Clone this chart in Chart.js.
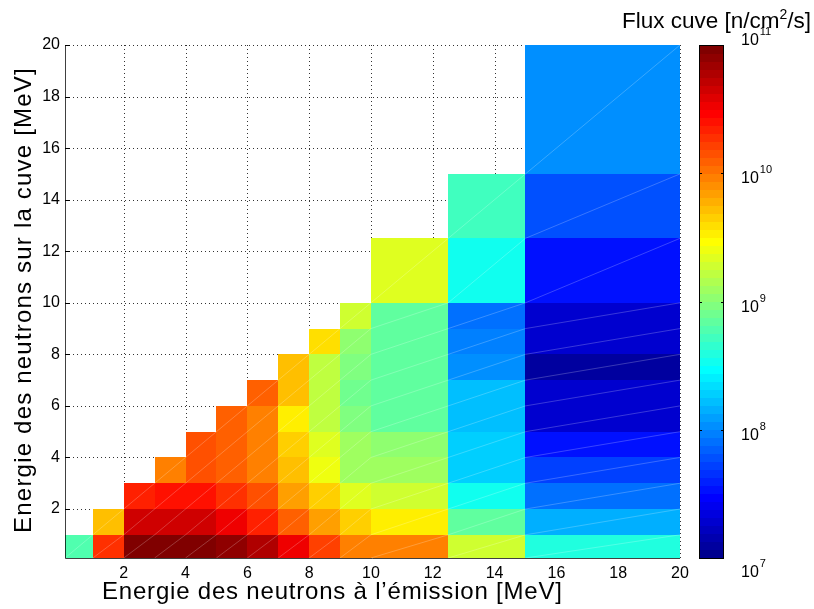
<!DOCTYPE html>
<html><head><meta charset="utf-8">
<script src="https://cdn.jsdelivr.net/npm/chart.js@4/dist/chart.umd.min.js"></script>
<style>html,body{margin:0;padding:0;background:#fff}#wrap{width:814px;height:609px}</style>
</head><body><div id="wrap"><canvas id="c" width="814" height="609"></canvas></div>
<script>
// ---- data ----
const xEdges = [0.1, 1, 2, 3, 4, 5, 6, 7, 8, 9, 10, 12.5, 15, 20];   // Energie à l'émission [MeV]
const yEdges = [0.1, 1, 2, 3, 4, 5, 6, 7, 8, 9, 10, 12.5, 15, 20];   // Energie sur la cuve [MeV]
const xTicks = [2, 4, 6, 8, 10, 12, 14, 16, 18, 20];
const yTicks = [2, 4, 6, 8, 10, 12, 14, 16, 18, 20];
const cbTicks = [1e7, 1e8, 1e9, 1e10, 1e11];
// flux [n/cm2/s], one array per "cuve" energy bin, one value per emission energy bin (null = empty)
const flux0  = [5.8e8, 2.0e10, 1.0e11, 1.0e11, 1.0e11, 8.3e10, 6.3e10, 3.2e10, 1.7e10, 9.1e9, 9.1e9, 1.8e9, 4.2e8];
const flux1  = [null, 5.6e9, 4.3e10, 4.3e10, 4.3e10, 3.6e10, 2.3e10, 1.26e10, 6.9e9, 4.4e9, 3.2e9, 6.9e8, 1.4e8];
const flux2  = [null, null, 2.3e10, 2.6e10, 2.6e10, 2.0e10, 1.45e10, 6.9e9, 4.4e9, 2.3e9, 2.0e9, 3.6e8, 7.9e7];
const flux3  = [null, null, null, 9.1e9, 1.45e10, 1.26e10, 9.1e9, 5.0e9, 2.5e9, 1.26e9, 1.2e9, 2.0e8, 5.0e7];
const flux4  = [null, null, null, null, 1.45e10, 1.26e10, 9.1e9, 4.4e9, 2.3e9, 1.26e9, 1.1e9, 2.0e8, 3.2e7];
const flux5  = [null, null, null, null, null, 1.26e10, 9.1e9, 3.6e9, 1.74e9, 9.1e8, 7.2e8, 1.6e8, 2.0e7];
const flux6  = [null, null, null, null, null, null, 1.26e10, 5.0e9, 1.74e9, 8.3e8, 6.9e8, 1.74e8, 2.0e7];
const flux7  = [null, null, null, null, null, null, null, 5.6e9, 1.74e9, 9.1e8, 6.9e8, 1.0e8, 1.26e7];
const flux8  = [null, null, null, null, null, null, null, null, 4.0e9, 1.0e9, 6.9e8, 9.1e7, 2.0e7];
const flux9  = [null, null, null, null, null, null, null, null, null, 2.0e9, 6.9e8, 7.9e7, 1.8e7];
const flux10 = [null, null, null, null, null, null, null, null, null, null, 2.1e9, 3.2e8, 3.6e7];
const flux11 = [null, null, null, null, null, null, null, null, null, null, null, 5.0e8, 5.8e7];
const flux12 = [null, null, null, null, null, null, null, null, null, null, null, null, 1.1e8];
const fluxRows = [flux0, flux1, flux2, flux3, flux4, flux5, flux6, flux7, flux8, flux9, flux10, flux11, flux12];

// ---- jet(64) colormap ----
function jet64() {
  const n = 64, m = 16, u = [];
  for (let j = 1; j <= m; j++) u.push(j / m);
  for (let j = 0; j < m - 1; j++) u.push(1);
  for (let j = m; j >= 1; j--) u.push(j / m);
  const cm = Array.from({length: n}, () => [0, 0, 0]);
  for (let k = 0; k < u.length; k++) {
    const g = 8 + k + 1, r = g + m, b = g - m;
    if (g <= n) cm[g - 1][1] = u[k];
    if (r <= n) cm[r - 1][0] = u[k];
    if (b >= 1) cm[b - 1][2] = u[k];
  }
  return cm.map(c => `rgb(${Math.round(c[0]*255)},${Math.round(c[1]*255)},${Math.round(c[2]*255)})`);
}
const JET = jet64();
const LMIN = 7, LMAX = 11;
function colorFor(v) {
  let i = Math.floor((Math.log10(v) - LMIN) / (LMAX - LMIN) * 64);
  return JET[Math.max(0, Math.min(63, i))];
}

const cells = [];
fluxRows.forEach((row, r) => row.forEach((v, c) => {
  if (v == null) return;
  cells.push({x: (xEdges[c] + xEdges[c+1]) / 2, y: (yEdges[r] + yEdges[r+1]) / 2,
              x0: xEdges[c], x1: xEdges[c+1], y0: yEdges[r], y1: yEdges[r+1], v});
}));

const FONT = 'Liberation Sans, Arial, Helvetica, sans-serif';

const heatPlugin = {
  id: 'heat',
  beforeDatasetsDraw(chart) {
    const {ctx, chartArea: a, scales: {x, y}} = chart;
    // dotted grid
    ctx.save();
    ctx.strokeStyle = 'rgba(0,0,0,0.8)'; ctx.lineWidth = 1; ctx.setLineDash([1, 3]);
    xTicks.forEach(t => { const px = Math.round(x.getPixelForValue(t)) + 0.5;
      ctx.beginPath(); ctx.moveTo(px, a.bottom); ctx.lineTo(px, a.top); ctx.stroke(); });
    yTicks.forEach(t => { const py = Math.round(y.getPixelForValue(t)) + 0.5;
      ctx.beginPath(); ctx.moveTo(a.left, py); ctx.lineTo(a.right, py); ctx.stroke(); });
    ctx.setLineDash([]);
    // inward ticks on left axis
    ctx.strokeStyle = '#000';
    yTicks.forEach(t => { const py = Math.round(y.getPixelForValue(t)) + 0.5;
      ctx.beginPath(); ctx.moveTo(a.left, py); ctx.lineTo(a.left + 5, py); ctx.stroke(); });
    ctx.restore();
    const data = chart.data.datasets[0].data;
    ctx.save();
    data.forEach(d => {
      const px0 = Math.round(x.getPixelForValue(d.x0)), px1 = Math.round(x.getPixelForValue(d.x1));
      const py0 = Math.round(y.getPixelForValue(d.y0)), py1 = Math.round(y.getPixelForValue(d.y1));
      ctx.fillStyle = colorFor(d.v);
      ctx.fillRect(px0, py1, px1 - px0, py0 - py1);
    });
    ctx.strokeStyle = 'rgba(255,255,255,0.28)'; ctx.lineWidth = 0.8;
    data.forEach(d => {
      ctx.beginPath();
      ctx.moveTo(x.getPixelForValue(d.x0), y.getPixelForValue(d.y0));
      ctx.lineTo(x.getPixelForValue(d.x1), y.getPixelForValue(d.y1));
      ctx.stroke();
    });
    ctx.restore();
  },
  afterDatasetsDraw(chart) {
    const {ctx, chartArea: a} = chart;
    ctx.save();
    ctx.strokeStyle = 'rgba(0,0,0,0.75)'; ctx.lineWidth = 1;
    ctx.beginPath(); ctx.moveTo(a.left + 0.5, a.top); ctx.lineTo(a.left + 0.5, a.bottom + 0.5);
    ctx.lineTo(a.right, a.bottom + 0.5); ctx.stroke();
    ctx.restore();
  },
  afterDraw(chart) {
    const {ctx, scales: {cb}} = chart;
    // colorbar
    const bx0 = 699, bx1 = 724;
    ctx.save();
    for (let i = 0; i < 64; i++) {
      const ya = cb.getPixelForValue(Math.pow(10, LMIN + (LMAX - LMIN) * i / 64));
      const yb = cb.getPixelForValue(Math.pow(10, LMIN + (LMAX - LMIN) * (i + 1) / 64));
      ctx.fillStyle = JET[i];
      ctx.fillRect(bx0, Math.floor(yb), bx1 - bx0, Math.ceil(ya) - Math.floor(yb));
    }
    ctx.strokeStyle = '#000'; ctx.lineWidth = 1;
    const top = cb.getPixelForValue(1e11), bot = cb.getPixelForValue(1e7);
    ctx.strokeRect(bx0 + 0.5, Math.round(top) + 0.5, bx1 - bx0 - 1, Math.round(bot - top));
    cbTicks.forEach((t, k) => {
      const py = Math.round(cb.getPixelForValue(t)) + 0.5;
      if (k > 0 && k < cbTicks.length - 1) {
        ctx.beginPath(); ctx.moveTo(bx0, py); ctx.lineTo(bx0 + 3, py); ctx.moveTo(bx1 - 3, py); ctx.lineTo(bx1, py); ctx.stroke();
      }
      const exp = String(Math.round(Math.log10(t)));
      let cy = py + 5;
      if (k === 0) cy = py + 14;
      if (k === cbTicks.length - 1) cy = py - 5;
      ctx.fillStyle = '#000';
      ctx.textAlign = 'left'; ctx.textBaseline = 'middle';
      ctx.font = `16px ${FONT}`;
      ctx.fillText('10', 741, cy);
      const w = ctx.measureText('10').width;
      ctx.font = `11px ${FONT}`;
      ctx.fillText(exp, 741 + w + 1, cy - 9);
    });
    // colorbar title
    ctx.textBaseline = 'alphabetic'; ctx.textAlign = 'left';
    ctx.font = `22.5px ${FONT}`;
    const p1 = 'Flux cuve [n/cm', p3 = '/s]';
    const w1 = ctx.measureText(p1).width, w3 = ctx.measureText(p3).width;
    ctx.font = `14px ${FONT}`;
    const w2 = ctx.measureText('2').width;
    const xr = 811, xs = xr - w3 - w2 - w1, by = 28;
    ctx.font = `22.5px ${FONT}`;
    ctx.fillText(p1, xs, by);
    ctx.fillText(p3, xs + w1 + w2, by);
    ctx.font = `14px ${FONT}`;
    ctx.fillText('2', xs + w1, by - 9);
    // axis titles
    ctx.font = `24px ${FONT}`;
    ctx.letterSpacing = '0.8px';
    ctx.fillText('Energie des neutrons à l’émission [MeV]', 102, 599);
    ctx.save();
    ctx.translate(31, 300);
    ctx.rotate(-Math.PI / 2);
    ctx.textAlign = 'center';
    ctx.letterSpacing = '1.2px';
    ctx.fillText('Energie des neutrons sur la cuve [MeV]', 0, 0);
    ctx.restore();
    ctx.restore();
  }
};

const gridOpts = {display: false, drawTicks: false};
const borderOpts = {display: false};

new Chart(document.getElementById('c'), {
  type: 'scatter',
  data: {datasets: [{label: 'Flux cuve', data: cells, pointRadius: 0, pointHoverRadius: 0,
    backgroundColor: 'transparent', borderColor: 'transparent'}]},
  options: {
    responsive: false, animation: false, devicePixelRatio: 1,
    layout: {padding: {left: 0, right: 134, top: 45, bottom: 0}},
    plugins: {legend: {display: false}, tooltip: {enabled: false}},
    scales: {
      x: {type: 'linear', min: 0.1, max: 20, position: 'bottom',
        afterBuildTicks: s => { s.ticks = xTicks.map(v => ({value: v})); },
        afterFit: s => { s.height = 51; },
        grid: gridOpts, border: borderOpts,
        ticks: {color: '#000', padding: 6, font: {size: 16, family: FONT}, maxRotation: 0, autoSkip: false}},
      y: {type: 'linear', min: 0.1, max: 20, position: 'left',
        afterBuildTicks: s => { s.ticks = yTicks.map(v => ({value: v})); },
        afterFit: s => { s.width = 65; },
        grid: gridOpts, border: borderOpts,
        ticks: {color: '#000', padding: 5, font: {size: 16, family: FONT}, autoSkip: false}},
      cb: {type: 'logarithmic', min: 1e7, max: 1e11, display: false, position: 'right'}
    }
  },
  plugins: [heatPlugin]
});
</script></body></html>
